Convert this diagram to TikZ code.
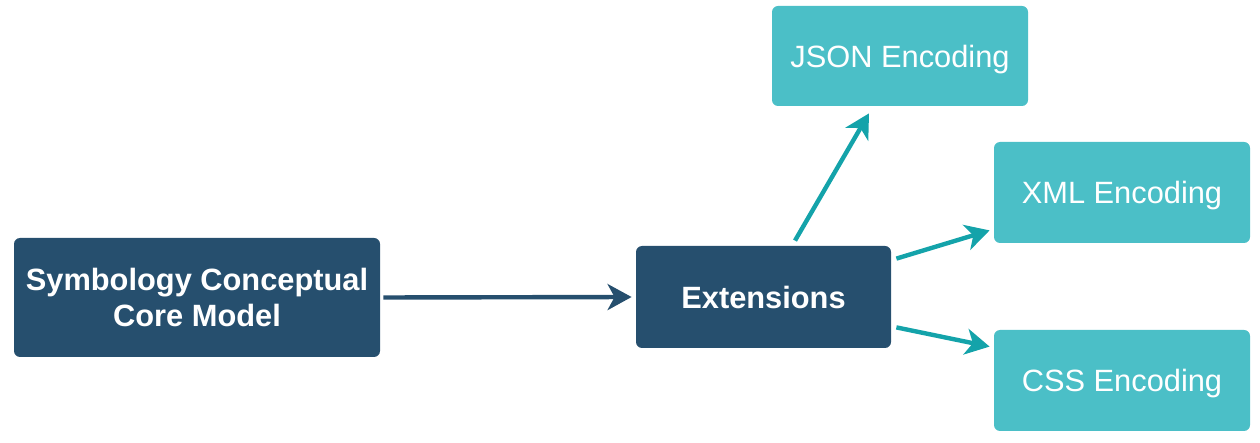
\documentclass[tikz,border=0pt]{standalone}
\usepackage{fontspec}
\setmainfont{Liberation Sans}
\usetikzlibrary{arrows.meta}
\definecolor{darkbox}{HTML}{264F6E}
\definecolor{tealbox}{HTML}{4BBFC7}
\definecolor{tealarrow}{HTML}{14A3AA}
\tikzset{
  darknode/.style={fill=darkbox, draw=none, rounded corners=3pt, text=white, font=\fontsize{15.4}{18}\selectfont\bfseries, align=center, inner sep=0pt, text depth=0pt},
  tealnode/.style={fill=tealbox, draw=none, rounded corners=3pt, text=white, font=\fontsize{15.4}{18}\selectfont, align=center, inner sep=0pt, text depth=0pt},
  darkarrow/.style={draw=darkbox, line width=2.2pt, -{Stealth[length=12pt,width=13pt,inset=3.5pt]}},
  tealarrowstyle/.style={draw=tealarrow, line width=2.2pt, -{Stealth[length=12pt,width=13pt,inset=3.5pt]}}
}
\begin{document}
\begin{tikzpicture}[x=0.5pt,y=-0.5pt]
\useasboundingbox (0,0) rectangle (1260,443);
\node[darknode, minimum width=183pt, minimum height=59.5pt] (core) at (197,297.5) {Symbology Conceptual\\Core Model};
\node[darknode, minimum width=127.5pt, minimum height=51pt] (ext) at (763.5,297) {Extensions};
\node[tealnode, minimum width=128pt, minimum height=50pt] (json) at (900,56) {JSON Encoding};
\node[tealnode, minimum width=128pt, minimum height=50.5pt] (xml) at (1122,192.5) {XML Encoding};
\node[tealnode, minimum width=128pt, minimum height=50.5pt] (css) at (1122,380.5) {CSS Encoding};
\draw[darkarrow, shorten <=1.5pt, shorten >=2pt] (core.east) -- (ext.west);
\draw[tealarrowstyle] ([xshift=15.75pt,yshift=2.5pt]ext.north) -- ([xshift=-15.5pt,yshift=-3.5pt]json.south);
\draw[tealarrowstyle] ([xshift=2.5pt,yshift=-6.5pt]ext.north east) -- ([xshift=-2pt,yshift=6.5pt]xml.south west);
\draw[tealarrowstyle] ([xshift=2.5pt,yshift=10.5pt]ext.south east) -- ([xshift=-2pt,yshift=-8.5pt]css.north west);
\end{tikzpicture}
\end{document}
